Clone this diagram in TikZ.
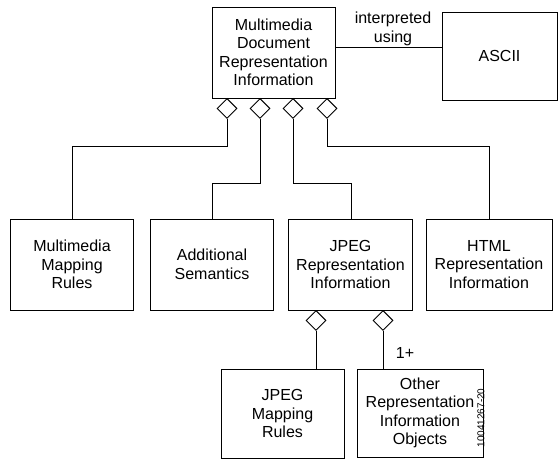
\documentclass[tikz,border=0pt]{standalone}
\usepackage{fontspec}
\setmainfont{Liberation Sans}
\usetikzlibrary{shapes.geometric}
\begin{document}
\begin{tikzpicture}[x=1bp,y=-1bp,
  line width=0.9bp,
  box/.style={draw, rectangle, inner sep=0pt, align=center,
    font=\fontsize{16bp}{18.5bp}\selectfont},
  dia/.style={draw, diamond, minimum width=20bp, minimum height=20bp, inner sep=0pt, anchor=north},
  lbl/.style={font=\fontsize{16bp}{18.5bp}\selectfont, align=center}]
\useasboundingbox (0,0) rectangle (560,459);
% top row
\node[box, minimum width=123bp, minimum height=91bp] (top) at (273.5,52.5)
  {Multimedia\\Document\\Representation\\Information};
\node[box, minimum width=115bp, minimum height=88bp] (ascii) at (499.5,56) {ASCII};
\coordinate (tr) at (335,47);
\coordinate (al) at (442,47);
\draw (tr) -- (al);
\node[lbl] (interp) at (393,29) {interpreted\\using};
% diamonds under top
\node[dia] (d1) at (227,98) {};
\node[dia] (d2) at (260,98) {};
\node[dia] (d3) at (293,98) {};
\node[dia] (d4) at (327,98) {};
% second row
\node[box, minimum width=123bp, minimum height=91bp] (b1) at (72,264.5)
  {Multimedia\\Mapping\\Rules};
\node[box, minimum width=123bp, minimum height=91bp] (b2) at (212,264.5)
  {Additional\\Semantics};
\node[box, minimum width=124bp, minimum height=91bp] (b3) at (350.5,264.5)
  {JPEG\\Representation\\Information};
\node[box, minimum width=126bp, minimum height=91bp] (b4) at (489,264.5)
  {HTML\\Representation\\Information};
\draw (d1.south) |- (72,146) -- (b1.north);
\draw (d2.south) |- (212,183) -- (b2.north);
\draw (d3.south) |- (351,183) -- (b3.north -| 351,0);
\draw (d4.south) |- (489,146) -- (b4.north);
% diamonds under JPEG
\node[dia] (d5) at (316,310) {};
\node[dia] (d6) at (383,310) {};
% third row
\node[box, minimum width=123bp, minimum height=89bp] (c1) at (282.5,413.5)
  {JPEG\\Mapping\\Rules};
\node[box, minimum width=126bp, minimum height=88bp] (c2) at (420,413)
  {Other\\Representation\\Information\\Objects};
\draw (d5.south) -- (d5.south |- c1.north);
\draw (d6.south) -- (d6.south |- c2.north);
\node[lbl] (mult) at (405,353) {1+};
\node[rotate=90, font=\fontsize{10bp}{11bp}\selectfont, inner sep=0pt] (code) at (481,418) {10041267-20};
\end{tikzpicture}
\end{document}
